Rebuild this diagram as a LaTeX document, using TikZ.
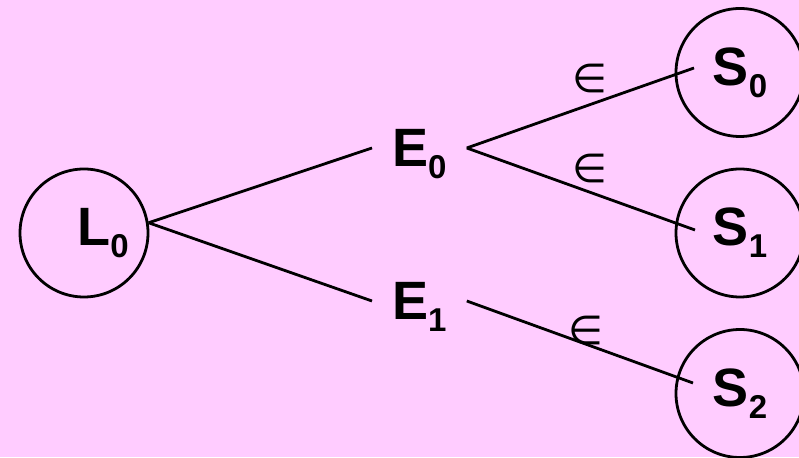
\documentclass[tikz,border=0pt]{standalone}
\usepackage{fontspec}
\setmainfont{Liberation Sans}
\newfontfamily\symfont{DejaVu Sans}
\usetikzlibrary{calc,positioning}
\definecolor{bgpink}{HTML}{FFCCFF}
\newcommand{\sublbl}[2]{#1\raisebox{-12pt}{\fontsize{33}{33}\selectfont #2}}
\tikzset{
  state/.style={draw,circle,line width=2.8pt,minimum size=128pt,inner sep=0pt,font=\fontsize{54}{60}\selectfont\bfseries},
  sym/.style={inner sep=0pt,inner xsep=20pt,text depth=0pt,font=\fontsize{54}{60}\selectfont\bfseries},
  ln/.style={line width=2.8pt},
  eps/.style={inner sep=0pt,font=\symfont\fontsize{40}{40}\selectfont}
}

\begin{document}
\begin{tikzpicture}[x=1pt,y=1pt]
\fill[bgpink] (0,0) rectangle (799,457);
\useasboundingbox (0,0) rectangle (799,457);
\node[state] (L0) at (84,224) {\hspace*{38pt}\sublbl{L}{0}};
\node[sym,anchor=west] (E0) at (372,309) {\sublbl{E}{0}};
\node[sym,anchor=west] (E1) at (372,156) {\sublbl{E}{1}};
\node[state] (S0) at (740,384.5) {\sublbl{S}{0}};
\node[state] (S1) at (740,224) {\sublbl{S}{1}};
\node[state] (S2) at (740,63.5) {\sublbl{S}{2}};
\draw[ln] (L0.9) -- (E0.west);
\draw[ln] (L0.9) -- (E1.west);
\draw[ln] (E0.east) -- node[eps,pos=0.54,yshift=26pt] (e0) {∈} ($(S0.center)+(-46,4.5)$);
\draw[ln] (E0.east) -- node[eps,pos=0.54,yshift=24pt] (e1) {∈} ($(S1.center)+(-45,3)$);
\draw[ln] (E1.east) -- node[eps,pos=0.527,yshift=14pt] (e2) {∈} ($(S2.center)+(-47,10.5)$);
\end{tikzpicture}
\end{document}
